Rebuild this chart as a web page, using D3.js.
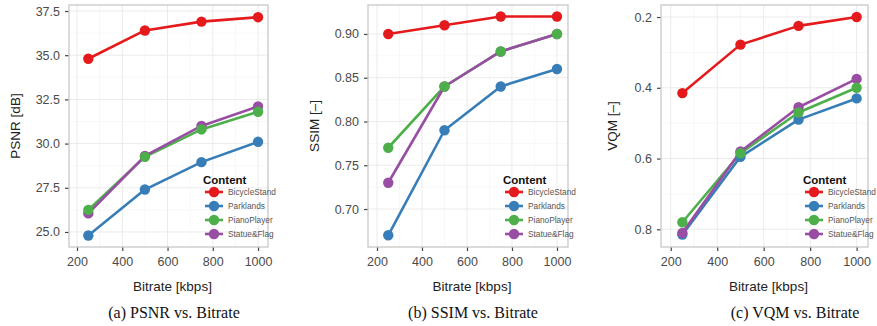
<!DOCTYPE html>
<html>
<head>
<meta charset="utf-8">
<script src="https://cdn.jsdelivr.net/npm/d3@7"></script>
<style>
  html, body { margin: 0; padding: 0; background: #fff; }
  svg { display: block; }
</style>
</head>
<body>
<svg id="chart" width="877" height="326"></svg>
<script>
// Bitrate levels shared by all three panels (kbps)
const bitrates = [250, 500, 750, 1000];
const contents = ["BicycleStand", "Parklands", "PianoPlayer", "Statue&Flag"];
const colors = ["#e41a1c", "#377eb8", "#4daf4a", "#984ea3"];

// PSNR [dB]
const psnrBicycle = [34.8, 36.4, 36.9, 37.15];
const psnrParklands = [24.8, 27.4, 28.95, 30.1];
const psnrPiano = [26.25, 29.25, 30.8, 31.8];
const psnrStatue = [26.05, 29.3, 31.0, 32.1];

// SSIM [-]
const ssimBicycle = [0.90, 0.91, 0.92, 0.92];
const ssimParklands = [0.67, 0.79, 0.84, 0.86];
const ssimPiano = [0.77, 0.84, 0.88, 0.90];
const ssimStatue = [0.73, 0.84, 0.88, 0.90];

// VQM [-] (lower is better, axis reversed)
const vqmBicycle = [0.415, 0.278, 0.225, 0.20];
const vqmParklands = [0.815, 0.595, 0.49, 0.43];
const vqmPiano = [0.78, 0.585, 0.47, 0.40];
const vqmStatue = [0.81, 0.58, 0.455, 0.375];

// Tick labels
const xTicks = [200, 400, 600, 800, 1000];
const psnrTicks = [25.0, 27.5, 30.0, 32.5, 35.0, 37.5];
const ssimTicks = [0.70, 0.75, 0.80, 0.85, 0.90];
const vqmTicks = [0.2, 0.4, 0.6, 0.8];

const panels = [
  {
    rect: {x0: 69, x1: 268, y0: 5, y1: 247},
    xDomain: [164.6, 1044],
    yDomain: [24.15, 37.84],
    reversed: false,
    yTicks: psnrTicks, yFmt: d3.format(".1f"),
    yTitle: "PSNR [dB]", yTitleX: 16,
    series: [psnrBicycle, psnrParklands, psnrPiano, psnrStatue],
    caption: "(a) PSNR vs. Bitrate", captionX: 174
  },
  {
    rect: {x0: 368, x1: 568, y0: 5, y1: 247},
    xDomain: [160, 1049],
    yDomain: [0.6566, 0.9331],
    reversed: false,
    yTicks: ssimTicks, yFmt: d3.format(".2f"),
    yTitle: "SSIM [\u2013]", yTitleX: 315,
    series: [ssimBicycle, ssimParklands, ssimPiano, ssimStatue],
    caption: "(b) SSIM vs. Bitrate", captionX: 473
  },
  {
    rect: {x0: 661, x1: 868, y0: 5, y1: 247},
    xDomain: [158, 1049],
    yDomain: [0.166, 0.85],
    reversed: true,
    yTicks: vqmTicks, yFmt: d3.format(".1f"),
    yTitle: "VQM [\u2013]", yTitleX: 613,
    series: [vqmBicycle, vqmParklands, vqmPiano, vqmStatue],
    caption: "(c) VQM vs. Bitrate", captionX: 795
  }
];

const svg = d3.select("#chart");
const sans = "'Liberation Sans', Arial, Helvetica, sans-serif";
const serif = "'Liberation Serif', 'Times New Roman', serif";

panels.forEach(p => {
  const r = p.rect;
  const x = d3.scaleLinear().domain(p.xDomain).range([r.x0, r.x1]);
  const y = d3.scaleLinear().domain(p.yDomain)
    .range(p.reversed ? [r.y0, r.y1] : [r.y1, r.y0]);

  const g = svg.append("g");

  // minor grid lines halfway between major ticks
  const xMinor = xTicks.slice(1).map((t, i) => (t + xTicks[i]) / 2);
  const yMinor = p.yTicks.slice(1).map((t, i) => (t + p.yTicks[i]) / 2);
  g.selectAll(".xminor").data(xMinor).join("line")
    .attr("x1", d => x(d)).attr("x2", d => x(d))
    .attr("y1", r.y0).attr("y2", r.y1)
    .attr("stroke", "#f3f3f3").attr("stroke-width", 0.6);
  g.selectAll(".yminor").data(yMinor).join("line")
    .attr("y1", d => y(d)).attr("y2", d => y(d))
    .attr("x1", r.x0).attr("x2", r.x1)
    .attr("stroke", "#f3f3f3").attr("stroke-width", 0.6);

  // major grid lines
  g.selectAll(".xgrid").data(xTicks).join("line")
    .attr("x1", d => x(d)).attr("x2", d => x(d))
    .attr("y1", r.y0).attr("y2", r.y1)
    .attr("stroke", "#ebebeb").attr("stroke-width", 1);
  g.selectAll(".ygrid").data(p.yTicks).join("line")
    .attr("y1", d => y(d)).attr("y2", d => y(d))
    .attr("x1", r.x0).attr("x2", r.x1)
    .attr("stroke", "#ebebeb").attr("stroke-width", 1);

  // axes
  const xAxis = d3.axisBottom(x).tickValues(xTicks).tickSize(4).tickPadding(6)
    .tickFormat(d3.format("d"));
  const yAxis = d3.axisLeft(y).tickValues(p.yTicks).tickSize(4).tickPadding(5)
    .tickFormat(p.yFmt);

  const gx = g.append("g").attr("transform", `translate(0,${r.y1})`).call(xAxis);
  const gy = g.append("g").attr("transform", `translate(${r.x0},0)`).call(yAxis);
  [gx, gy].forEach(a => {
    a.select(".domain").remove();
    a.selectAll(".tick line").attr("stroke", "#444").attr("stroke-width", 1.2);
    a.selectAll(".tick text").attr("fill", "#4a4a4a")
      .style("font-family", sans).style("font-size", "12.5px");
  });

  // panel border
  g.append("rect")
    .attr("x", r.x0).attr("y", r.y0)
    .attr("width", r.x1 - r.x0).attr("height", r.y1 - r.y0)
    .attr("fill", "none").attr("stroke", "#c8c8c8").attr("stroke-width", 1.3);

  // series lines
  const line = d3.line().x((d, i) => x(bitrates[i])).y(d => y(d));
  p.series.forEach((s, k) => {
    g.append("path").datum(s)
      .attr("d", line).attr("fill", "none")
      .attr("stroke", colors[k]).attr("stroke-width", 2.6)
      .attr("stroke-linejoin", "round");
  });

  // points (PianoPlayer drawn last)
  [0, 1, 3, 2].forEach(k => {
    g.selectAll(null).data(p.series[k]).join("circle")
      .attr("cx", (d, i) => x(bitrates[i]))
      .attr("cy", d => y(d))
      .attr("r", 5.2)
      .attr("fill", colors[k]);
  });

  // axis titles
  g.append("text")
    .attr("x", (r.x0 + r.x1) / 2 + 4).attr("y", 291)
    .attr("text-anchor", "middle")
    .style("font-family", sans).style("font-size", "13.5px").attr("fill", "#222")
    .text("Bitrate [kbps]");
  g.append("text")
    .attr("transform", `translate(${p.yTitleX + 4},${(r.y0 + r.y1) / 2}) rotate(-90)`)
    .attr("text-anchor", "middle")
    .style("font-family", sans).style("font-size", "13.5px").attr("fill", "#222")
    .text(p.yTitle);

  // legend
  const lx = r.x1 - 65;
  const leg = g.append("g");
  leg.append("text")
    .attr("x", lx).attr("y", 184)
    .style("font-family", sans).style("font-size", "11.5px")
    .style("font-weight", "bold").attr("fill", "#111")
    .text("Content");
  contents.forEach((c, k) => {
    const cy = 192 + k * 14;
    leg.append("line")
      .attr("x1", lx + 2).attr("x2", lx + 20)
      .attr("y1", cy).attr("y2", cy)
      .attr("stroke", colors[k]).attr("stroke-width", 2.6);
    leg.append("circle")
      .attr("cx", lx + 11).attr("cy", cy).attr("r", 5.2)
      .attr("fill", colors[k]);
    leg.append("text")
      .attr("x", lx + 25).attr("y", cy + 3)
      .style("font-family", sans).style("font-size", "8.3px")
      .attr("fill", "#555")
      .text(c);
  });

  // caption
  svg.append("text")
    .attr("x", p.captionX).attr("y", 318)
    .attr("text-anchor", "middle")
    .style("font-family", serif).style("font-size", "16px").attr("fill", "#111")
    .text(p.caption);
});
</script>
</body>
</html>
